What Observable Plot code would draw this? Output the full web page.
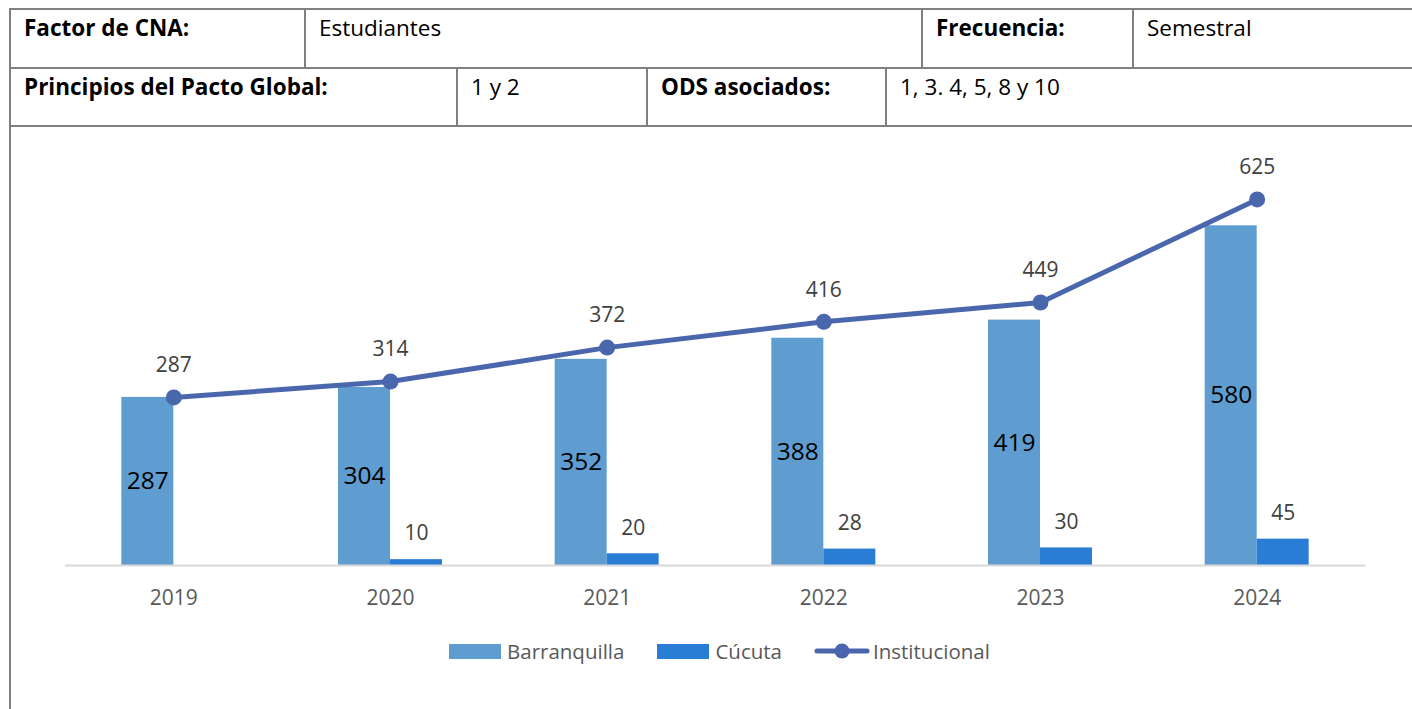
<!DOCTYPE html>
<html>
<head>
<meta charset="utf-8">
<script src="https://cdn.jsdelivr.net/npm/d3@7"></script>
<script src="https://cdn.jsdelivr.net/npm/@observablehq/plot@0.6"></script>
<style>
  html, body { margin: 0; padding: 0; background: #fff; width: 1412px; height: 709px; overflow: hidden; position: relative; }
  .cell { position: absolute; box-sizing: border-box; border: 2px solid #808080; font-family: "Open Sans", sans-serif; font-size: 22.5px; line-height: 26px; color: #000; padding: 5px 0 0 13px; white-space: nowrap; }
  .b { font-weight: bold; }
  #chart { position: absolute; left: 0; top: 127px; }
  #legend { position: absolute; left: 449px; top: 636px; height: 30px; display: flex; align-items: center; font-family: "Open Sans", sans-serif; font-size: 20.5px; color: #595959; white-space: nowrap; }
  .sw { display: inline-block; width: 52px; height: 15px; margin-right: 6px; }
</style>
</head>
<body>
<div id="table"></div>
<div id="chart"></div>
<div id="legend"></div>
<script>
// ---- data ----
const years = ["2019", "2020", "2021", "2022", "2023", "2024"];
const barranquilla = [287, 304, 352, 388, 419, 580];
const cucuta = [null, 10, 20, 28, 30, 45];
const institucional = [287, 314, 372, 416, 449, 625];
const seriesNames = ["Barranquilla", "Cúcuta", "Institucional"];
const seriesColors = ["#5F9DD1", "#2A7DD5", "#4A66AD"];

const row1 = [["Factor de CNA:", true], ["Estudiantes", false], ["Frecuencia:", true], ["Semestral", false]];
const row2 = [["Principios del Pacto Global:", true], ["1 y 2", false], ["ODS asociados:", true], ["1, 3. 4, 5, 8 y 10", false]];

// ---- table (layout) ----
const tbl = document.getElementById("table");
function addRow(cells, edges, top, h) {
  cells.forEach((c, i) => {
    const d = document.createElement("div");
    d.className = "cell" + (c[1] ? " b" : "");
    d.style.left = edges[i] + "px";
    d.style.top = top + "px";
    d.style.width = (edges[i + 1] - edges[i] + 2) + "px";
    d.style.height = (h + 2) + "px";
    d.textContent = c[0];
    tbl.appendChild(d);
  });
}
addRow(row1, [9, 304, 921, 1132, 1430], 8, 59);
addRow(row2, [9, 456, 646, 885, 1430], 67, 58);
const box = document.createElement("div");
box.className = "cell";
box.style.left = "9px"; box.style.top = "125px"; box.style.width = "1430px"; box.style.height = "700px";
tbl.appendChild(box);

// ---- chart ----
const rowsB = years.map((y, i) => ({year: y, value: barranquilla[i]}));
const rowsC = years.map((y, i) => ({year: y, value: cucuta[i]})).filter(d => d.value != null);
const rowsI = years.map((y, i) => ({year: y, value: institucional[i]}));

const chart = Plot.plot({
  width: 1412,
  height: 488,
  marginLeft: 65,
  marginRight: 47,
  marginTop: 28,
  marginBottom: 50,
  style: {fontFamily: "'Open Sans', sans-serif", fontSize: "21px", background: "transparent"},
  x: {type: "band", domain: years, paddingInner: 0.76, paddingOuter: 0.38, round: false, label: null},
  y: {domain: [0, 700], axis: null},
  marks: [
    Plot.barY(rowsB, {x: "year", y: "value", fill: seriesColors[0], dx: -26}),
    Plot.barY(rowsC, {x: "year", y: "value", fill: seriesColors[1], dx: 26}),
    Plot.ruleY([0], {stroke: "#D9D9D9", strokeWidth: 2}),
    Plot.line(rowsI, {x: "year", y: "value", stroke: seriesColors[2], strokeWidth: 5}),
    Plot.dot(rowsI, {x: "year", y: "value", r: 8, fill: seriesColors[2]}),
    Plot.text(rowsI, {x: "year", y: "value", text: d => String(d.value), dy: -32, fontSize: 21, fill: "#404040"}),
    Plot.text(rowsB, {x: "year", y: d => d.value / 2, text: d => String(d.value), dx: -26, fontSize: 24.5, fill: "#000"}),
    Plot.text(rowsC, {x: "year", y: "value", text: d => String(d.value), dx: 26, dy: -26, fontSize: 21, fill: "#404040"}),
    Plot.axisX({tickSize: 0, tickPadding: 25, fill: "#595959", fontSize: 21})
  ]
});
document.getElementById("chart").appendChild(chart);

// ---- legend ----
const lg = document.getElementById("legend");
lg.innerHTML =
  `<span class="sw" style="background:${seriesColors[0]}"></span><span style="margin-right:33px">${seriesNames[0]}</span>` +
  `<span class="sw" style="background:${seriesColors[1]}"></span><span style="margin-right:32px">${seriesNames[1]}</span>` +
  `<svg width="56" height="20" style="margin-right:3px"><line x1="3" y1="10" x2="53" y2="10" stroke="${seriesColors[2]}" stroke-width="5" stroke-linecap="round"/><circle cx="28" cy="10" r="7.5" fill="${seriesColors[2]}"/></svg><span>${seriesNames[2]}</span>`;
</script>
</body>
</html>
